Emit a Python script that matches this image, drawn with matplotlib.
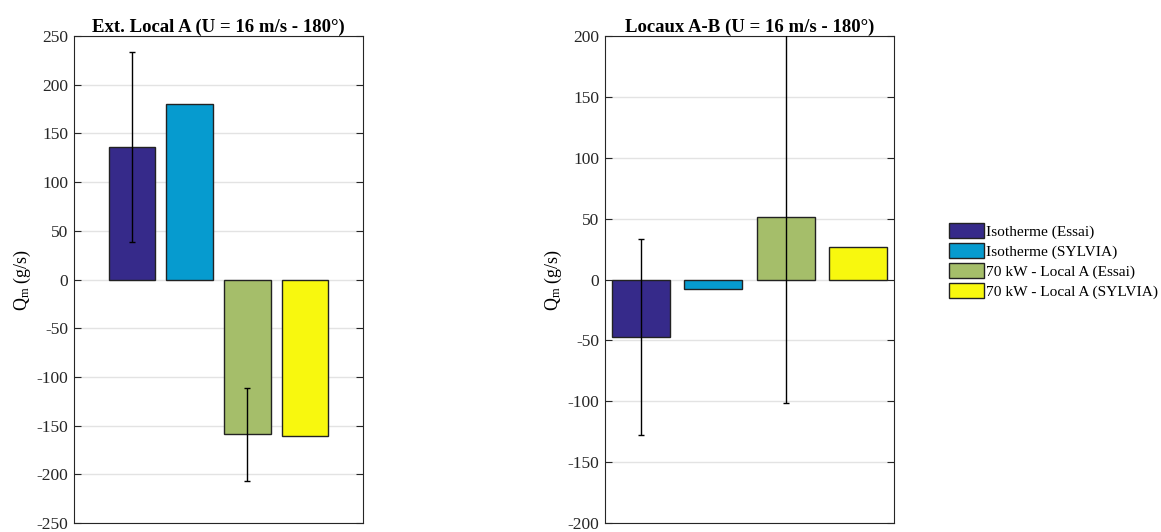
import numpy as np
import matplotlib.pyplot as plt

plt.rcParams['font.family'] = ['Liberation Serif', 'DejaVu Serif']
plt.rcParams['mathtext.fontset'] = 'custom'
plt.rcParams['mathtext.rm'] = 'Liberation Serif'
plt.rcParams['mathtext.it'] = 'Liberation Serif'
plt.rcParams['axes.unicode_minus'] = False

# Donnees
series = ['Isotherme (Essai)', 'Isotherme (SYLVIA)',
          '70 kW - Local A (Essai)', '70 kW - Local A (SYLVIA)']
couleurs = ['#362A8A', '#069BCF', '#A5BE6A', '#F8F80E']

extA_val = [136, 180.5, -159, -161]
extA_err = [98, None, 48, None]

locAB_val = [-47.6, -8.2, 51, 26.5]
locAB_err = [80.5, None, 152.6, None]

titres = ['Ext. Local A (U = 16 m/s - 180°)', 'Locaux A-B (U = 16 m/s - 180°)']

fig = plt.figure(figsize=(11.61, 5.32), dpi=100)
W, H = 1161, 532
ax1 = fig.add_axes([74 / W, 1 - 523 / H, 289 / W, 487 / H])
ax2 = fig.add_axes([605 / W, 1 - 523 / H, 289 / W, 487 / H])


def tracer(ax, vals, errs, titre, ylim, yticks, xlim):
    x = np.arange(1, len(vals) + 1)
    barres = ax.bar(x, vals, width=0.8, color=couleurs, edgecolor='#222222',
                    linewidth=1.0, zorder=3)
    for xi, v, e in zip(x, vals, errs):
        if e is not None:
            ax.errorbar(xi, v, yerr=e, color='black', capsize=2.5, capthick=1,
                        elinewidth=1, zorder=4, clip_on=True)
    ax.set_xlim(*xlim)
    ax.set_ylim(*ylim)
    ax.set_yticks(yticks)
    ax.set_xticks([])
    ax.yaxis.grid(True, color='#e3e3e3', linewidth=1, zorder=0)
    ax.set_axisbelow(True)
    ax.tick_params(axis='y', direction='in', length=5, right=True, pad=4,
                   labelsize=12.5, colors='#262626', labelcolor='#262626')
    for s in ax.spines.values():
        s.set_color('#262626')
        s.set_linewidth(0.8)
    ax.set_title(titre, fontsize=13.5, fontweight='bold', pad=3)
    ax.set_ylabel(r'Q$_{\mathrm{m}}$ (g/s)', fontsize=13, labelpad=3)
    return barres


barres = tracer(ax1, extA_val, extA_err, titres[0], (-250, 250),
                np.arange(-250, 251, 50), (0, 5))
tracer(ax2, locAB_val, locAB_err, titres[1], (-200, 200),
       np.arange(-200, 201, 50), (0.5, 4.5))

fig.legend(barres, series, loc='center left', bbox_to_anchor=(949 / W, 1 - 261 / H),
           frameon=False, fontsize=11.1, handlelength=2.3, handleheight=1.15,
           handletextpad=0.1, labelspacing=0.25, borderaxespad=0, borderpad=0)

fig.savefig('out.png', dpi=100)
